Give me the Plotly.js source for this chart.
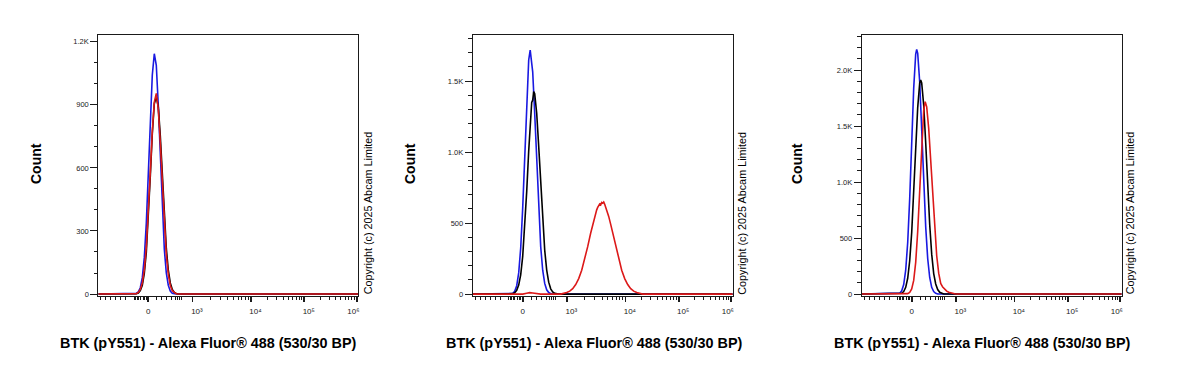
<!DOCTYPE html>
<html><head><meta charset="utf-8">
<script src="https://cdn.plot.ly/plotly-3.0.1.min.js"></script>
<style>html,body{margin:0;padding:0;background:#fff}#chart{width:1200px;height:365px}</style>
</head><body><div id="chart"></div>
<script>
// x values: display channel (biexponential display, 0-260 across each plot); y values: event counts
const xTickVals = [50, 94.2, 152.7, 206, 258.4];
const xTickText = ['0', '\u00A0\u00A0\u00A0\u00A010\u00B3', '\u00A0\u00A0\u00A0\u00A010\u2074', '\u00A0\u00A0\u00A0\u00A010\u2075', '10\u2076\u00A0\u00A0\u00A0'];
const xMinorTicks = [2.4, 7.4, 12.4, 17.4, 22.4, 27.4, 36, 37.5, 39, 40.5, 42, 45, 46.5, 48, 49.5,
  58.4, 63.4, 68.4, 73.4, 76.7, 79, 81, 82.7,
  111.8, 122.1, 129.4, 135.1, 139.7, 143.6, 147.0, 150.0,
  168.7, 178.1, 184.8, 190.0, 194.2, 197.7, 200.8, 203.6,
  221.8, 231.0, 237.5, 242.6, 246.8, 250.3, 253.3, 256.0];

const axisTitle = 'BTK (pY551) - Alexa Fluor® 488 (530/30 BP)';
const yTitle = 'Count';
const copyright = 'Copyright (c) 2025 Abcam Limited';

// Panel 1
const p1YTicks = [0, 300, 600, 900, 1200];
const p1YText = ['0', '300', '600', '900', '1.2K'];
const p1X = [0, 38,40,42,44,46,48,50,52,54,56,58,60,62,64,66,68,70,72,74,76,78,80, 260];
const p1Blue = [0, 3,10,30,78,173,336,565,824,1042,1143,1088,897,642,398,214,100,41,14,4,1,0,0, 0];
const p1Black = [0, 1,5,16,42,98,198,358,560,762,905,938,890,752,562,372,218,114,53,22,8,3,0, 0];
const p1Red = [0, 2,8,22,53,116,224,384,579,774,913,954,880,718,518,331,187,93,41,16,6,1,0, 0];

// Panel 2
const p2YTicks = [0, 500, 1000, 1500];
const p2YText = ['0', '500', '1.0K', '1.5K'];
const p2BlueX = [0, 40,42,44,46,48,50,52,54,56,57.5,60,62,64,66,68,70,72,74,76,78,80, 260];
const p2Blue = [0, 4,20,59,149,324,607,982,1370,1648,1718,1565,1271,917,587,334,168,75,30,11,3,0, 0];
const p2BlackX = [0, 40,42,44,46,48,50,52,54,56,58,59,60,61,62,64,66,68,70,72,74,76,78,80,82,84,86, 260];
const p2Black = [0, 3,9,26,63,136,265,463,721,1007,1258,1350,1365,1425,1410,1273,1040,769,513,310,169,84,37,15,5,1,0, 0];
const p2RedX = [0, 50,54,57,60,64,68, 88,91,94,97,100,103,106,109,112,115,118,120,122,124,125,126,127,128,129,130,131,132,134,136,138,140,143,146,149,152,155,158,161,164,167,170, 260];
const p2Red = [0, 0,6,10,8,2,0, 0,5,11,21,38,67,109,168,244,334,430,491,547,593,610,620,634,628,645,640,648,632,593,547,491,430,334,244,168,109,67,38,21,11,5,0, 0];

// Panel 3
const p3YTicks = [0, 500, 1000, 1500, 2000];
const p3YText = ['0', '500', '1.0K', '1.5K', '2.0K'];
const p3BlueX = [0, 38,40,42,44,46,48,50,52,54,55,56,58,60,62,64,66,68,70,72,74,76, 260];
const p3Blue = [0, 8,29,85,213,460,852,1352,1838,2143,2185,2150,1893,1467,1000,601,317,148,60,22,7,0, 0];
const p3BlackX = [0, 40,42,44,46,48,50,52,54,56,58,59,60,62,64,66,68,70,72,74,76,78,80,82, 260];
const p3Black = [0, 7,22,60,141,297,549,899,1301,1665,1883,1912,1886,1687,1351,968,621,356,183,90,40,16,6,0, 0];
const p3RedX = [0, 44,46,48,50,52,54,56,58,60,62,63.5,65,67,69,71,73,75,77,79,81,83,85,87,89,91,93,95, 260];
const p3Red = [0, 1,4,14,45,122,283,558,938,1345,1642,1718,1671,1479,1188,864,571,342,186,95,62,40,26,16,9,5,2,0, 0];

const BLUE = 'rgb(25,25,225)', BLACK = 'rgb(0,0,0)', RED = 'rgb(220,25,25)';
const W = 1200, H = 365;
const panels = [
  {left: 98.3, yr: [-7, 1232], yt: p1YTicks, ytt: p1YText, minor: 100,
   series: [[p1X, p1Blue, BLUE], [p1X, p1Black, BLACK], [p1X, p1Red, RED]],
   countX: 36, titleX: 208.5, copyX: 368.3},
  {left: 472.7, yr: [-10, 1824], yt: p2YTicks, ytt: p2YText, minor: 100,
   series: [[p2BlueX, p2Blue, BLUE], [p2BlackX, p2Black, BLACK], [p2RedX, p2Red, RED]],
   countX: 410, titleX: 594.5, copyX: 741.7},
  {left: 861.7, yr: [-13, 2313], yt: p3YTicks, ytt: p3YText, minor: 100,
   series: [[p3BlueX, p3Blue, BLUE], [p3BlackX, p3Black, BLACK], [p3RedX, p3Red, RED]],
   countX: 797, titleX: 982.5, copyX: 1130.3}
];
const plotTop = 35, plotBottom = 295.5, plotW = 260;
const FONT = 'Arial, "Liberation Sans", sans-serif';
const AXC = '#1a1a1a';

const traces = [];
const layout = {
  width: W, height: H, margin: {l: 0, r: 0, t: 0, b: 0},
  paper_bgcolor: '#fff', plot_bgcolor: '#fff', showlegend: false,
  font: {family: FONT, color: '#000'}, annotations: []
};
panels.forEach((p, i) => {
  const n = i === 0 ? '' : String(i + 1);
  p.series.forEach(s => traces.push({
    x: s[0], y: s[1], type: 'scatter', mode: 'lines',
    line: {color: s[2], width: 1.6}, xaxis: 'x' + n, yaxis: 'y' + n, hoverinfo: 'skip'
  }));
  const yMinor = [];
  for (let v = 0; v <= p.yr[1]; v += p.minor) yMinor.push(v);
  layout['xaxis' + n] = {
    domain: [p.left / W, (p.left + plotW) / W], range: [0, 260], anchor: 'y' + n,
    showgrid: false, zeroline: false, showline: true, linecolor: AXC, linewidth: 1, mirror: true,
    tickmode: 'array', tickvals: xTickVals, ticktext: xTickText,
    ticks: 'outside', ticklen: 5, tickwidth: 1.8, tickcolor: AXC,
    tickfont: {family: FONT, size: 8, color: '#222'}, ticklabelstandoff: 3,
    minor: {tickmode: 'array', tickvals: xMinorTicks, ticks: 'outside', ticklen: 3, tickwidth: 1, tickcolor: AXC, showgrid: false}
  };
  layout['yaxis' + n] = {
    domain: [1 - plotBottom / H, 1 - plotTop / H], range: p.yr, anchor: 'x' + n,
    showgrid: false, zeroline: false, showline: true, linecolor: AXC, linewidth: 1, mirror: true,
    tickmode: 'array', tickvals: p.yt, ticktext: p.ytt,
    ticks: 'outside', ticklen: 7, tickwidth: 1, tickcolor: AXC,
    tickfont: {family: FONT, size: 7.5, color: '#222'},
    minor: {tickmode: 'array', tickvals: yMinor, ticks: 'outside', ticklen: 3.5, tickwidth: 1, tickcolor: AXC, showgrid: false}
  };
  layout.annotations.push(
    {text: '<b>' + yTitle + '</b>', xref: 'paper', yref: 'paper', x: p.countX / W, y: 1 - 164 / H,
     textangle: -90, showarrow: false, font: {family: FONT, size: 14, color: '#000'}, xanchor: 'center', yanchor: 'middle'},
    {text: '<b>' + axisTitle + '</b>', xref: 'paper', yref: 'paper', x: p.titleX / W, y: 1 - 343 / H,
     showarrow: false, font: {family: FONT, size: 14.4, color: '#000'}, xanchor: 'center', yanchor: 'middle'},
    {text: copyright, xref: 'paper', yref: 'paper', x: p.copyX / W, y: 1 - 213 / H,
     textangle: -90, showarrow: false, font: {family: FONT, size: 10.8, color: '#000'}, xanchor: 'center', yanchor: 'middle'}
  );
});
Plotly.newPlot('chart', traces, layout, {staticPlot: true, displayModeBar: false});
</script>
</body></html>
